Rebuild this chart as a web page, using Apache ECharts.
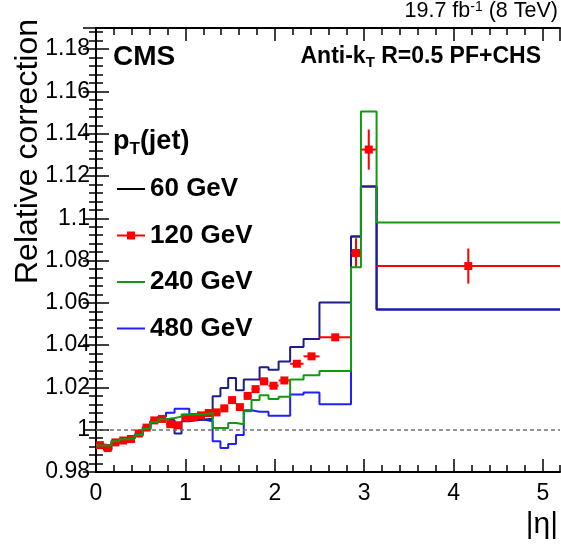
<!DOCTYPE html>
<html>
<head>
<meta charset="utf-8">
<script src="https://cdn.jsdelivr.net/npm/echarts@6/dist/echarts.min.js"></script>
<style>
    html, body { margin: 0; padding: 0; background: #fff; }
    #chart { width: 561px; height: 545px; }
</style>
</head>
<body>
<div id="chart"></div>
<script>
    // eta bin edges (|eta|)
    const etaEdges = [0, 0.087, 0.174, 0.261, 0.348, 0.435, 0.522, 0.609, 0.696, 0.783,
        0.879, 0.957, 1.044, 1.131, 1.218, 1.305, 1.392, 1.479, 1.566, 1.653,
        1.740, 1.830, 1.930, 2.043, 2.172, 2.322, 2.500, 2.853, 2.964, 3.139, 5.191];

    const ptLabels = ['60 GeV', '120 GeV', '240 GeV', '480 GeV'];

    // relative correction per bin
    const v60 = [0.9920, 0.9905, 0.9940, 0.9948, 0.9958, 0.9972, 1.0002, 1.0040, 1.0050, 1.0045,
        0.9982, 1.0040, 1.0045, 1.0048, 1.0052, 1.0158, 1.0197, 1.0245, 1.0187, 1.0237,
        1.0237, 1.0295, 1.0284, 1.0323, 1.0391, 1.0429, 1.0602, 1.0914, 1.1150, 1.0568];
    const v120 = [0.9927, 0.9913, 0.9940, 0.9949, 0.9956, 0.9982, 1.0010, 1.0044, 1.0051, 1.0026,
        1.0021, 1.0057, 1.0060, 1.0068, 1.0079, 1.0082, 1.0101, 1.0140, 1.0107, 1.0160,
        1.0192, 1.0229, 1.0208, 1.0233, 1.0312, 1.0347, 1.0437, 1.0836, 1.1325, 1.0774];
    const err120 = [0.0008, 0.0008, 0.0008, 0.0008, 0.0008, 0.0008, 0.0008, 0.0008, 0.0008, 0.0008,
        0.0008, 0.0008, 0.0008, 0.0008, 0.0008, 0.0008, 0.0008, 0.0008, 0.0008, 0.0008,
        0.0008, 0.0008, 0.0008, 0.0008, 0.0012, 0.0012, 0.0015, 0.0070, 0.0095, 0.0083];
    const v240 = [0.9925, 0.9925, 0.9945, 0.9955, 0.9960, 0.9975, 1.0005, 1.0036, 1.0050, 1.0055,
        1.0062, 1.0072, 1.0072, 1.0072, 1.0080, 1.0008, 1.0008, 1.0032, 1.0026, 1.0087,
        1.0140, 1.0163, 1.0145, 1.0156, 1.0238, 1.0258, 1.0278, 1.0768, 1.1505, 1.0980];
    const v480 = [0.9930, 0.9925, 0.9948, 0.9955, 0.9962, 0.9978, 1.0010, 1.0040, 1.0062, 1.0080,
        1.0099, 1.0099, 1.0050, 1.0047, 1.0040, 0.9945, 0.9914, 0.9932, 0.9975, 1.0092,
        1.0085, 1.0085, 1.0066, 1.0066, 1.0166, 1.0176, 1.0121, 1.0914, 1.1150, 1.0568];

    const FONT = '"Liberation Sans", Arial, Helvetica, sans-serif';
    const C60 = '#1c1c8a', C120 = '#ff0000', C240 = '#109a10', C480 = '#1f1fff';

    // histogram outline: one point per left edge, plus the last right edge
    function stepData(vals) {
        const d = vals.map((v, i) => [etaEdges[i], v]);
        d.push([etaEdges[etaEdges.length - 1], vals[vals.length - 1]]);
        return d;
    }

    const myChart = echarts.init(document.getElementById('chart'), null, {renderer: 'canvas'});

    // one axis for major ticks (+labels), one for minor ticks, on each side
    function xAx(pos, major) {
        return {
            type: 'value', position: pos, min: 0, max: 5.191,
            interval: major ? 1 : 0.2,
            axisLine: {show: major, lineStyle: {color: '#000', width: 2}},
            axisTick: {show: true, inside: true, length: major ? 13 : 7, lineStyle: {color: '#000', width: 1.5}},
            axisLabel: {
                show: major && pos === 'bottom', showMaxLabel: false, margin: 10,
                color: '#000', fontSize: 23, fontFamily: FONT
            },
            splitLine: {show: false}
        };
    }
    function yAx(pos, major) {
        return {
            type: 'value', position: pos, min: 0.98, max: 1.19,
            interval: major ? 0.02 : 0.004,
            axisLine: {show: major, lineStyle: {color: '#000', width: 2}},
            axisTick: {show: true, inside: true, length: major ? 13 : 7, lineStyle: {color: '#000', width: 1.5}},
            axisLabel: {
                show: major && pos === 'left', showMaxLabel: false, margin: 6,
                color: '#000', fontSize: 23, fontFamily: FONT,
                formatter: function (v) { return String(+v.toFixed(2)); }
            },
            splitLine: {show: false}
        };
    }

    const hideSym = {opacity: 0};

    let option = {
        animation: false,
        grid: {left: 96, right: 1, top: 28, bottom: 73, outerBoundsMode: 'none'},
        xAxis: [xAx('bottom', true), xAx('bottom', false), xAx('top', true), xAx('top', false)],
        yAxis: [yAx('left', true), yAx('left', false), yAx('right', true), yAx('right', false)],
        legend: {
            orient: 'vertical', left: 116, top: 174, padding: 0,
            itemWidth: 28, itemHeight: 10, itemGap: 16.5,
            textStyle: {color: '#000', fontSize: 26, fontWeight: 'bold', fontFamily: FONT, lineHeight: 30},
            selectedMode: false,
            data: [
                {name: ptLabels[0], lineStyle: {color: '#000', width: 2}, itemStyle: hideSym},
                {name: ptLabels[1], lineStyle: {color: C120, width: 2, opacity: 1}},
                {name: ptLabels[2], itemStyle: hideSym},
                {name: ptLabels[3], itemStyle: hideSym}
            ]
        },
        graphic: [
            {
                type: 'text', right: 3, top: 0,
                style: {
                    text: '{n|19.7 fb}{s|-1}{n| (8 TeV)}',
                    rich: {
                        n: {fontSize: 21.5, fontFamily: FONT, fill: '#000'},
                        s: {fontSize: 14, fontFamily: FONT, fill: '#000', padding: [0, 0, 8, 0]}
                    }
                }
            },
            {
                type: 'text', x: 113, y: 57,
                style: {text: 'CMS', fontSize: 28, fontWeight: 'bold', fontFamily: FONT, fill: '#000', textVerticalAlign: 'middle'}
            },
            {
                type: 'text', x: 541, y: 57,
                style: {
                    text: '{b|Anti-k}{s|T}{b| R=0.5 PF+CHS}',
                    textAlign: 'right', textVerticalAlign: 'middle',
                    rich: {
                        b: {fontSize: 23, fontWeight: 'bold', fontFamily: FONT, fill: '#000'},
                        s: {fontSize: 15, fontWeight: 'bold', fontFamily: FONT, fill: '#000', padding: [11, 0, 0, 0]}
                    }
                }
            },
            {
                type: 'text', x: 113, y: 142,
                style: {
                    text: '{b|p}{s|T}{b|(jet)}',
                    textVerticalAlign: 'middle',
                    rich: {
                        b: {fontSize: 27, fontWeight: 'bold', fontFamily: FONT, fill: '#000'},
                        s: {fontSize: 17, fontWeight: 'bold', fontFamily: FONT, fill: '#000', padding: [14, 0, 0, 0]}
                    }
                }
            },
            {
                type: 'text', x: 28, y: 19, rotation: Math.PI / 2,
                style: {
                    text: 'Relative correction', fontSize: 32, fontFamily: FONT, fill: '#000',
                    textAlign: 'right', textVerticalAlign: 'middle'
                }
            },
            {
                type: 'text', x: 558, y: 525,
                style: {text: '|η|', fontSize: 30, fontFamily: FONT, fill: '#000', textAlign: 'right', textVerticalAlign: 'middle'}
            }
        ],
        series: [
            {
                name: ptLabels[3], type: 'line', step: 'end', symbol: 'none', silent: true, z: 2,
                color: C480, lineStyle: {color: C480, width: 2},
                data: stepData(v480),
                markLine: {
                    silent: true, symbol: 'none', label: {show: false},
                    lineStyle: {color: '#707070', width: 1.5, type: [4, 3]},
                    data: [{yAxis: 1}]
                }
            },
            {
                name: ptLabels[0], type: 'line', step: 'end', symbol: 'none', silent: true, z: 3,
                color: C60, lineStyle: {color: C60, width: 2},
                data: stepData(v60)
            },
            {
                name: 'err120', type: 'custom', silent: true, z: 4,
                renderItem: function (params, api) {
                    const x0 = api.value(0), x1 = api.value(1), y = api.value(2), e = api.value(3);
                    const xc = (x0 + x1) / 2;
                    const pL = api.coord([x0, y]), pR = api.coord([x1, y]);
                    const pT = api.coord([xc, y + e]), pB = api.coord([xc, y - e]);
                    const st = {stroke: C120, lineWidth: 2};
                    return {
                        type: 'group', children: [
                            {type: 'line', shape: {x1: pL[0], y1: pL[1], x2: pR[0], y2: pR[1]}, style: st},
                            {type: 'line', shape: {x1: pT[0], y1: pT[1], x2: pB[0], y2: pB[1]}, style: st}
                        ]
                    };
                },
                encode: {x: [0, 1], y: [2]},
                data: v120.map((v, i) => [etaEdges[i], etaEdges[i + 1], v, err120[i]])
            },
            {
                name: ptLabels[1], type: 'line', symbol: 'rect', symbolSize: 8, showSymbol: true, silent: true, z: 5,
                color: C120, itemStyle: {color: C120},
                lineStyle: {color: C120, width: 2, opacity: 0},
                data: v120.map((v, i) => [(etaEdges[i] + etaEdges[i + 1]) / 2, v])
            },
            {
                name: ptLabels[2], type: 'line', step: 'end', symbol: 'none', silent: true, z: 6,
                color: C240, lineStyle: {color: C240, width: 2},
                data: stepData(v240)
            }
        ]
    };

    myChart.setOption(option);
</script>
</body>
</html>
